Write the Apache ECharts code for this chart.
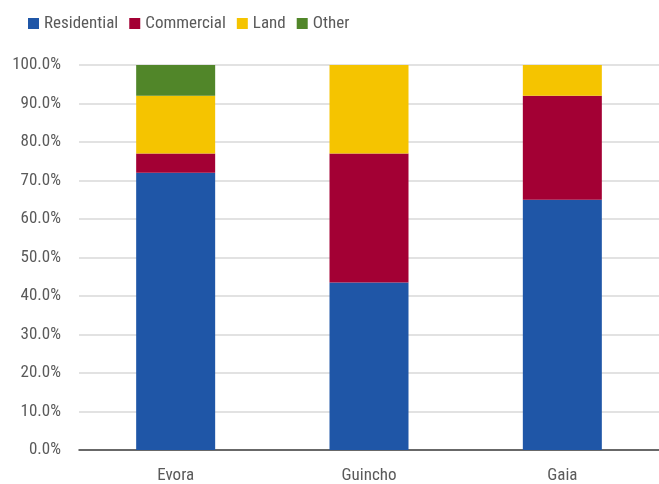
<!DOCTYPE html>
<html>
<head>
<meta charset="utf-8">
<script src="https://cdn.jsdelivr.net/npm/echarts@6/dist/echarts.min.js"></script>
<style>
  html, body { margin: 0; padding: 0; background: #fff; }
  #chart { width: 659px; height: 484px; }
</style>
</head>
<body>
<div id="chart"></div>
<script>
// Property portfolio mix by location (share of total, %)
const categories = ['Evora', 'Guincho', 'Gaia'];
const residential = [72.0, 43.5, 65.0];
const commercial = [5.0, 33.5, 27.0];
const land = [15.0, 23.0, 8.0];
const other = [8.0, 0, 0];

const seriesNames = ['Residential', 'Commercial', 'Land', 'Other'];
const seriesColors = ['#1f56a7', '#a30034', '#f5c400', '#518629'];
const seriesValues = [residential, commercial, land, other];

const FONT = "'Roboto Condensed', 'Liberation Sans', sans-serif";
const TEXT = '#5a5a5a';

const chart = echarts.init(document.getElementById('chart'), null, { renderer: 'canvas' });

chart.setOption({
  animation: false,
  textStyle: { fontFamily: FONT },
  legend: {
    top: 10,
    left: 23,
    itemWidth: 11,
    itemHeight: 11,
    itemGap: 11,
    icon: 'rect',
    textStyle: { color: TEXT, fontSize: 17, fontFamily: FONT },
    data: seriesNames
  },
  grid: { left: 79, width: 588, top: 65, height: 386 },
  xAxis: {
    type: 'category',
    data: categories,
    axisLine: { lineStyle: { color: '#404040', width: 1.5 } },
    axisTick: { show: false },
    axisLabel: { color: TEXT, fontSize: 17, margin: 17, fontFamily: FONT }
  },
  yAxis: {
    type: 'value',
    min: 0,
    max: 100,
    interval: 10,
    axisLine: { show: false },
    axisTick: { show: false },
    splitLine: { lineStyle: { color: '#d9d9d9', width: 1.5 } },
    axisLabel: {
      color: TEXT,
      fontSize: 17,
      margin: 18,
      fontFamily: FONT,
      formatter: v => v.toFixed(1) + '%'
    }
  },
  series: seriesNames.map((name, i) => ({
    name,
    type: 'bar',
    stack: 'total',
    barWidth: 79,
    itemStyle: { color: seriesColors[i] },
    data: seriesValues[i]
  }))
});
</script>
</body>
</html>
